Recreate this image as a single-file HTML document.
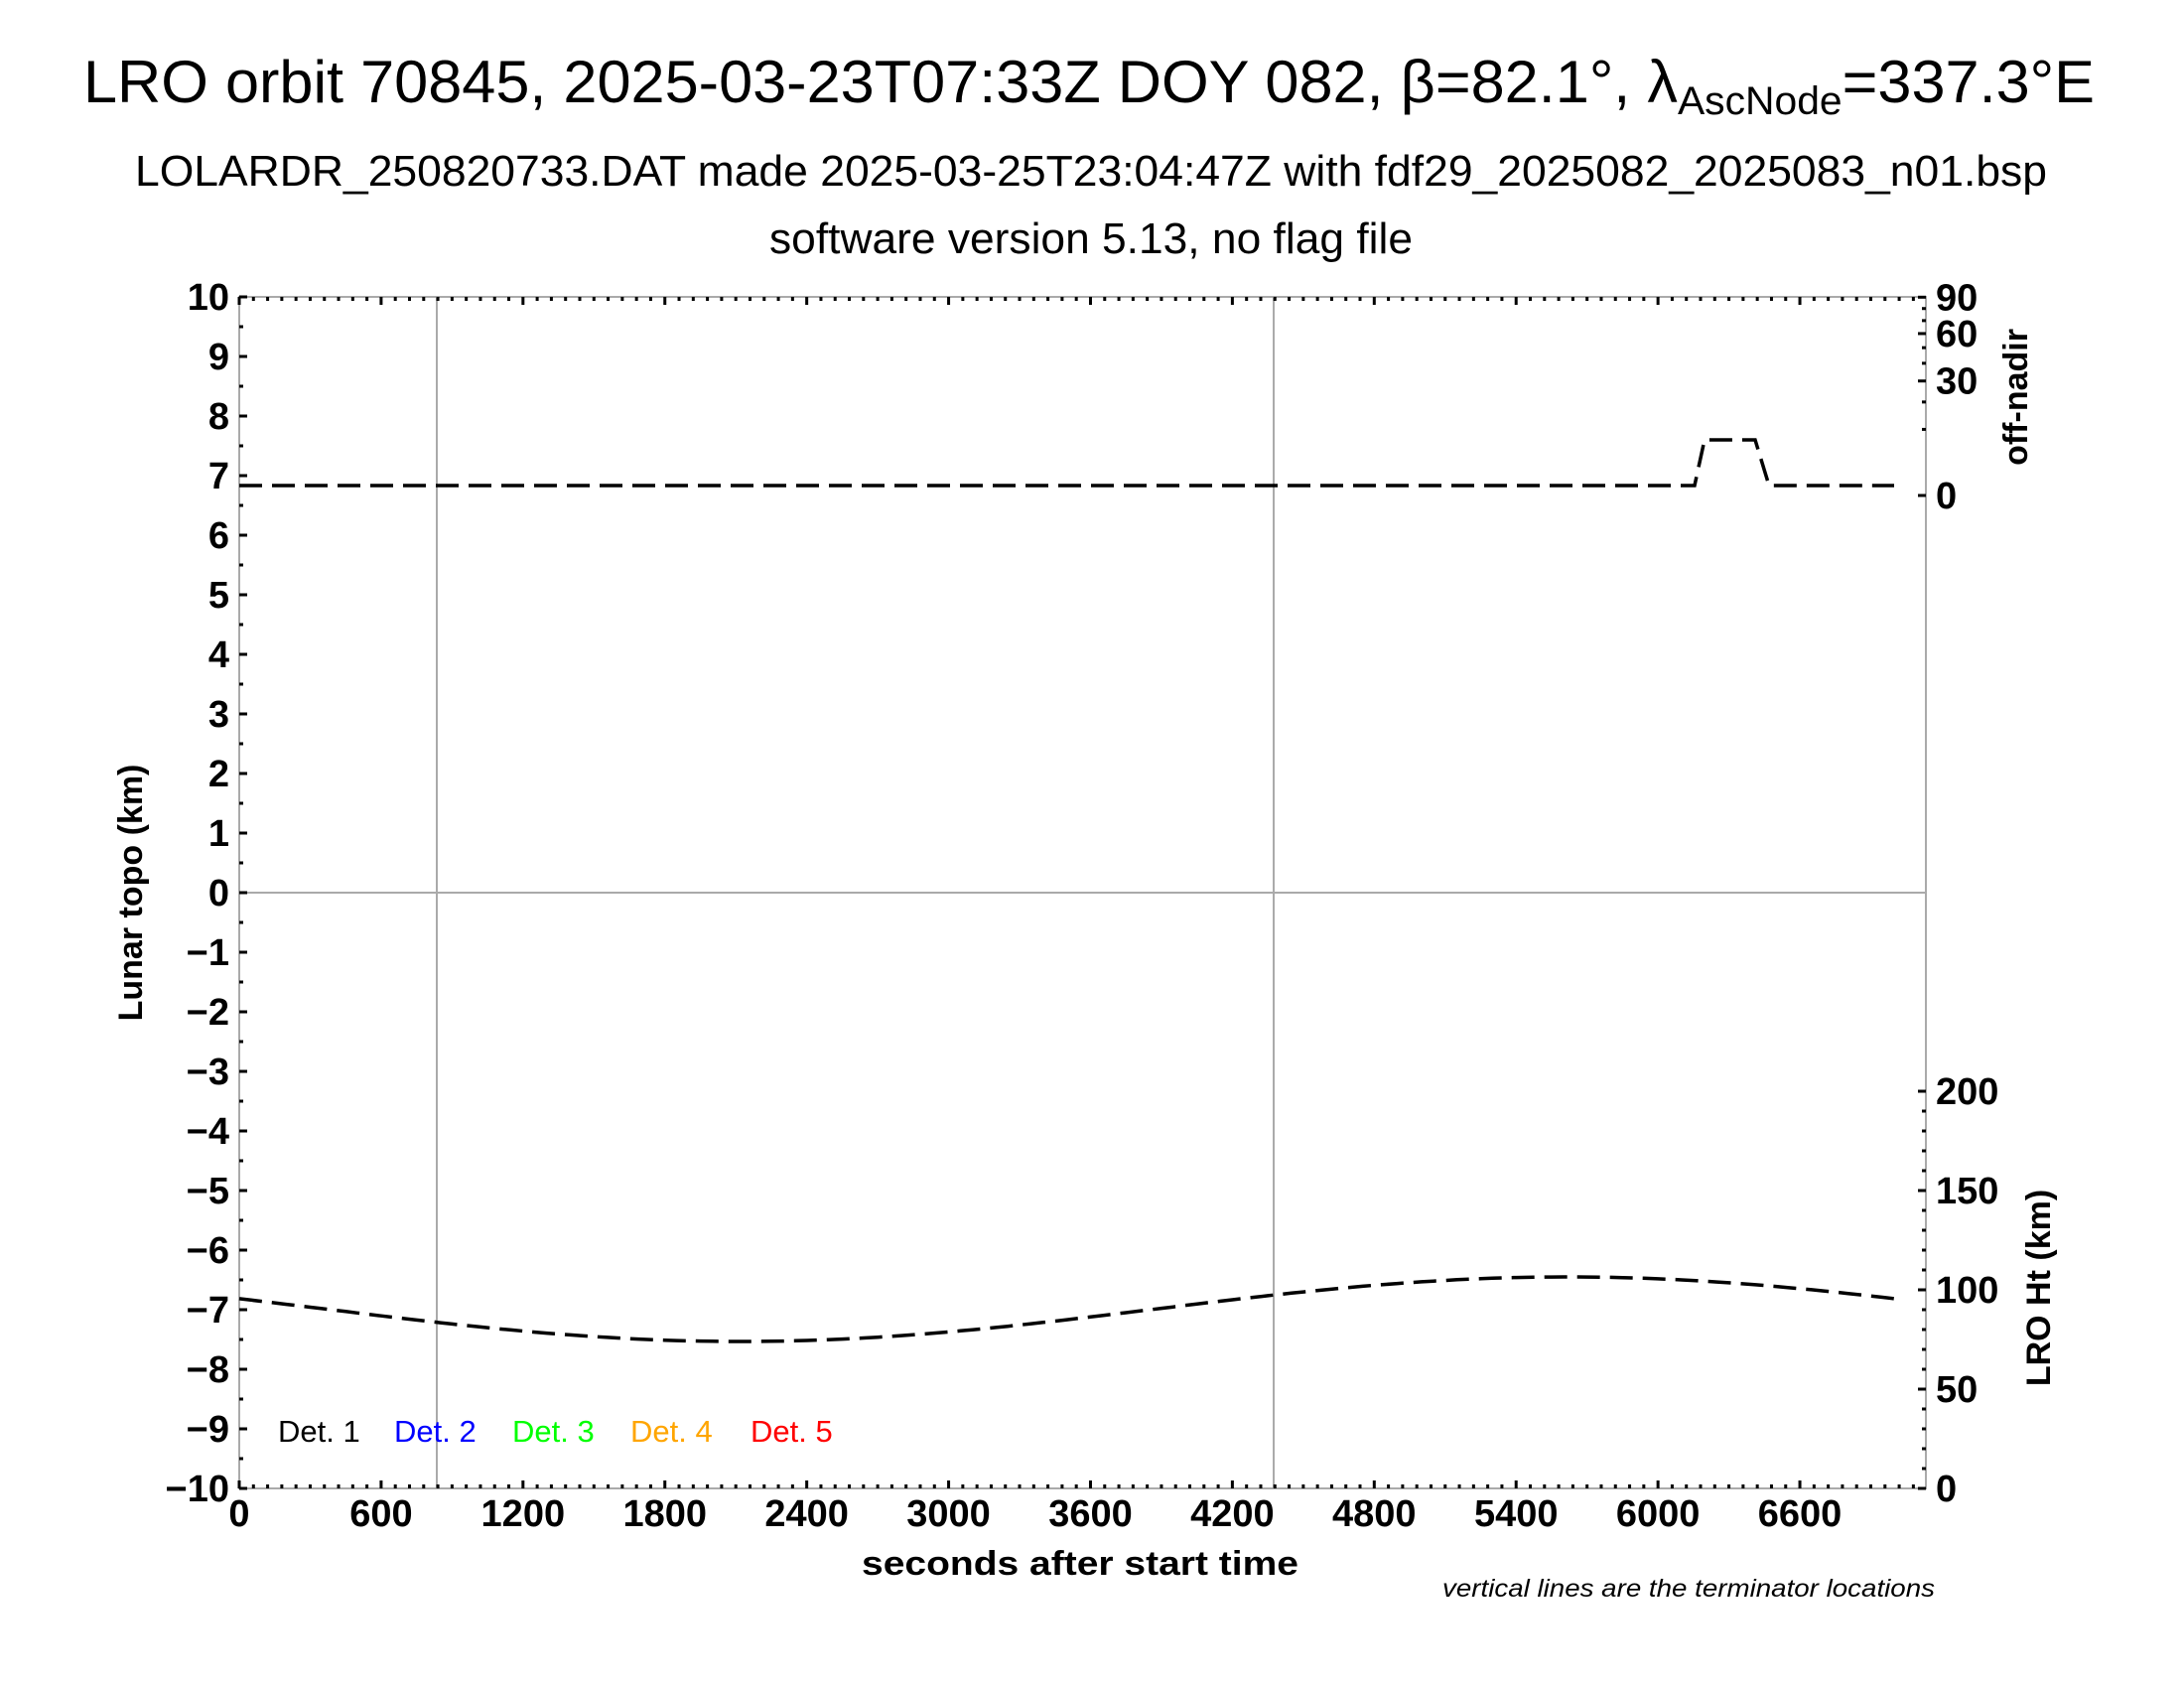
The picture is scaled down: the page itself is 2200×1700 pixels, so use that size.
<!DOCTYPE html>
<html><head><meta charset="utf-8"><style>
html,body{margin:0;padding:0;background:#fff}
svg{display:block}
text{font-family:"Liberation Sans",Arial,sans-serif}
.t{font-weight:bold;font-size:34px}
.n{font-weight:bold;font-size:38px}
</style></head><body>
<svg id="s" width="2200" height="1700" viewBox="0 0 2200 1700" xmlns="http://www.w3.org/2000/svg">
<text x="1097" y="103" font-size="60" text-anchor="middle" textLength="2026" lengthAdjust="spacingAndGlyphs">LRO orbit 70845, 2025-03-23T07:33Z DOY 082, β=82.1°, λ<tspan font-size="40" dy="12">AscNode</tspan><tspan dy="-12">=337.3°E</tspan></text>
<text x="1099" y="187" font-size="44" text-anchor="middle" textLength="1926" lengthAdjust="spacingAndGlyphs">LOLARDR_250820733.DAT made 2025-03-25T23:04:47Z with fdf29_2025082_2025083_n01.bsp</text>
<text x="1099" y="255" font-size="44" text-anchor="middle" textLength="648" lengthAdjust="spacingAndGlyphs">software version 5.13, no flag file</text>
<g stroke="#aaa" stroke-width="2" fill="none">
<line x1="440" y1="299" x2="440" y2="1499"/>
<line x1="1283" y1="299" x2="1283" y2="1499"/>
<line x1="241" y1="899" x2="1940" y2="899"/>
<rect x="241" y="299" width="1699" height="1200"/>
</g>
<g id="ticks" stroke="#000" stroke-width="3"></g>
<g id="labs" class="n"></g>
<path id="nad" fill="none" stroke="#000" stroke-width="3.5" stroke-dasharray="23 10"/>
<path id="ht" fill="none" stroke="#000" stroke-width="3.5" stroke-dasharray="23 10"/>
<text class="t" transform="translate(143,899) rotate(-90)" text-anchor="middle">Lunar topo (km)</text>
<text class="t" transform="translate(2042,400) rotate(-90)" text-anchor="middle">off-nadir</text>
<text class="t" transform="translate(2065,1297) rotate(-90)" text-anchor="middle">LRO Ht (km)</text>
<text class="t" x="1088" y="1586" text-anchor="middle" textLength="440" lengthAdjust="spacingAndGlyphs">seconds after start time</text>
<text x="1949" y="1608" font-size="25" font-style="italic" text-anchor="end" textLength="496" lengthAdjust="spacingAndGlyphs">vertical lines are the terminator locations</text>
<g font-size="31">
<text x="280" y="1452" fill="#000">Det. 1</text>
<text x="397" y="1452" fill="#0000ff">Det. 2</text>
<text x="516" y="1452" fill="#00ff00">Det. 3</text>
<text x="635" y="1452" fill="#ffa500">Det. 4</text>
<text x="756" y="1452" fill="#ff0000">Det. 5</text>
</g>
</svg>
<script>
var NS="http://www.w3.org/2000/svg",T=document.getElementById('ticks'),L=document.getElementById('labs');
function ln(a,b,c,d){var e=document.createElementNS(NS,'line');e.setAttribute('x1',a);e.setAttribute('y1',b);e.setAttribute('x2',c);e.setAttribute('y2',d);T.appendChild(e);}
function tx(x,y,s,anc){var e=document.createElementNS(NS,'text');e.setAttribute('x',x);e.setAttribute('y',y);e.setAttribute('text-anchor',anc);e.textContent=s;L.appendChild(e);}
var px=1699/7133;
function X(t){return 241+t*px;}
for(var t=0;t<=7133;t+=60){var x=X(t),maj=(t%600==0);var l=maj?8:4;ln(x,299,x,299+l);ln(x,1499,x,1499-l);
 if(maj&&t<=6600)tx(x,1537,String(t),'middle');}
for(var k=-20;k<=20;k++){var y=899-k*30,maj=(k%2==0);ln(241,y,241+(maj?8:4),y);
 if(maj){var v=k/2;tx(231,y+13,(v<0?'\u2212':'')+Math.abs(v),'end');}}
for(var a=0;a<=90;a+=10){var y=499-21.05*Math.sqrt(a);ln(1940,y,1940-((a%30==0)?8:4),y);
 if(a%30==0)tx(1950,y+13,String(a),'start');}
for(var h=0;h<=200;h+=10){var y=1499-h*2;ln(1940,y,1940-((h%50==0)?8:4),y);
 if(h%50==0)tx(1950,y+13,String(h),'start');}
document.getElementById('nad').setAttribute('d','M241,489 L1707,489 L1717,443 L1768,443 L1782,489 L1908,489');
var d='';for(var t=0;t<=7000;t+=50){var y=1318.5+32.5*Math.cos(2*Math.PI*(t-2120)/7000);d+=(t?'L':'M')+X(t).toFixed(1)+','+y.toFixed(1);}
document.getElementById('ht').setAttribute('d',d);
</script>
</body></html>
